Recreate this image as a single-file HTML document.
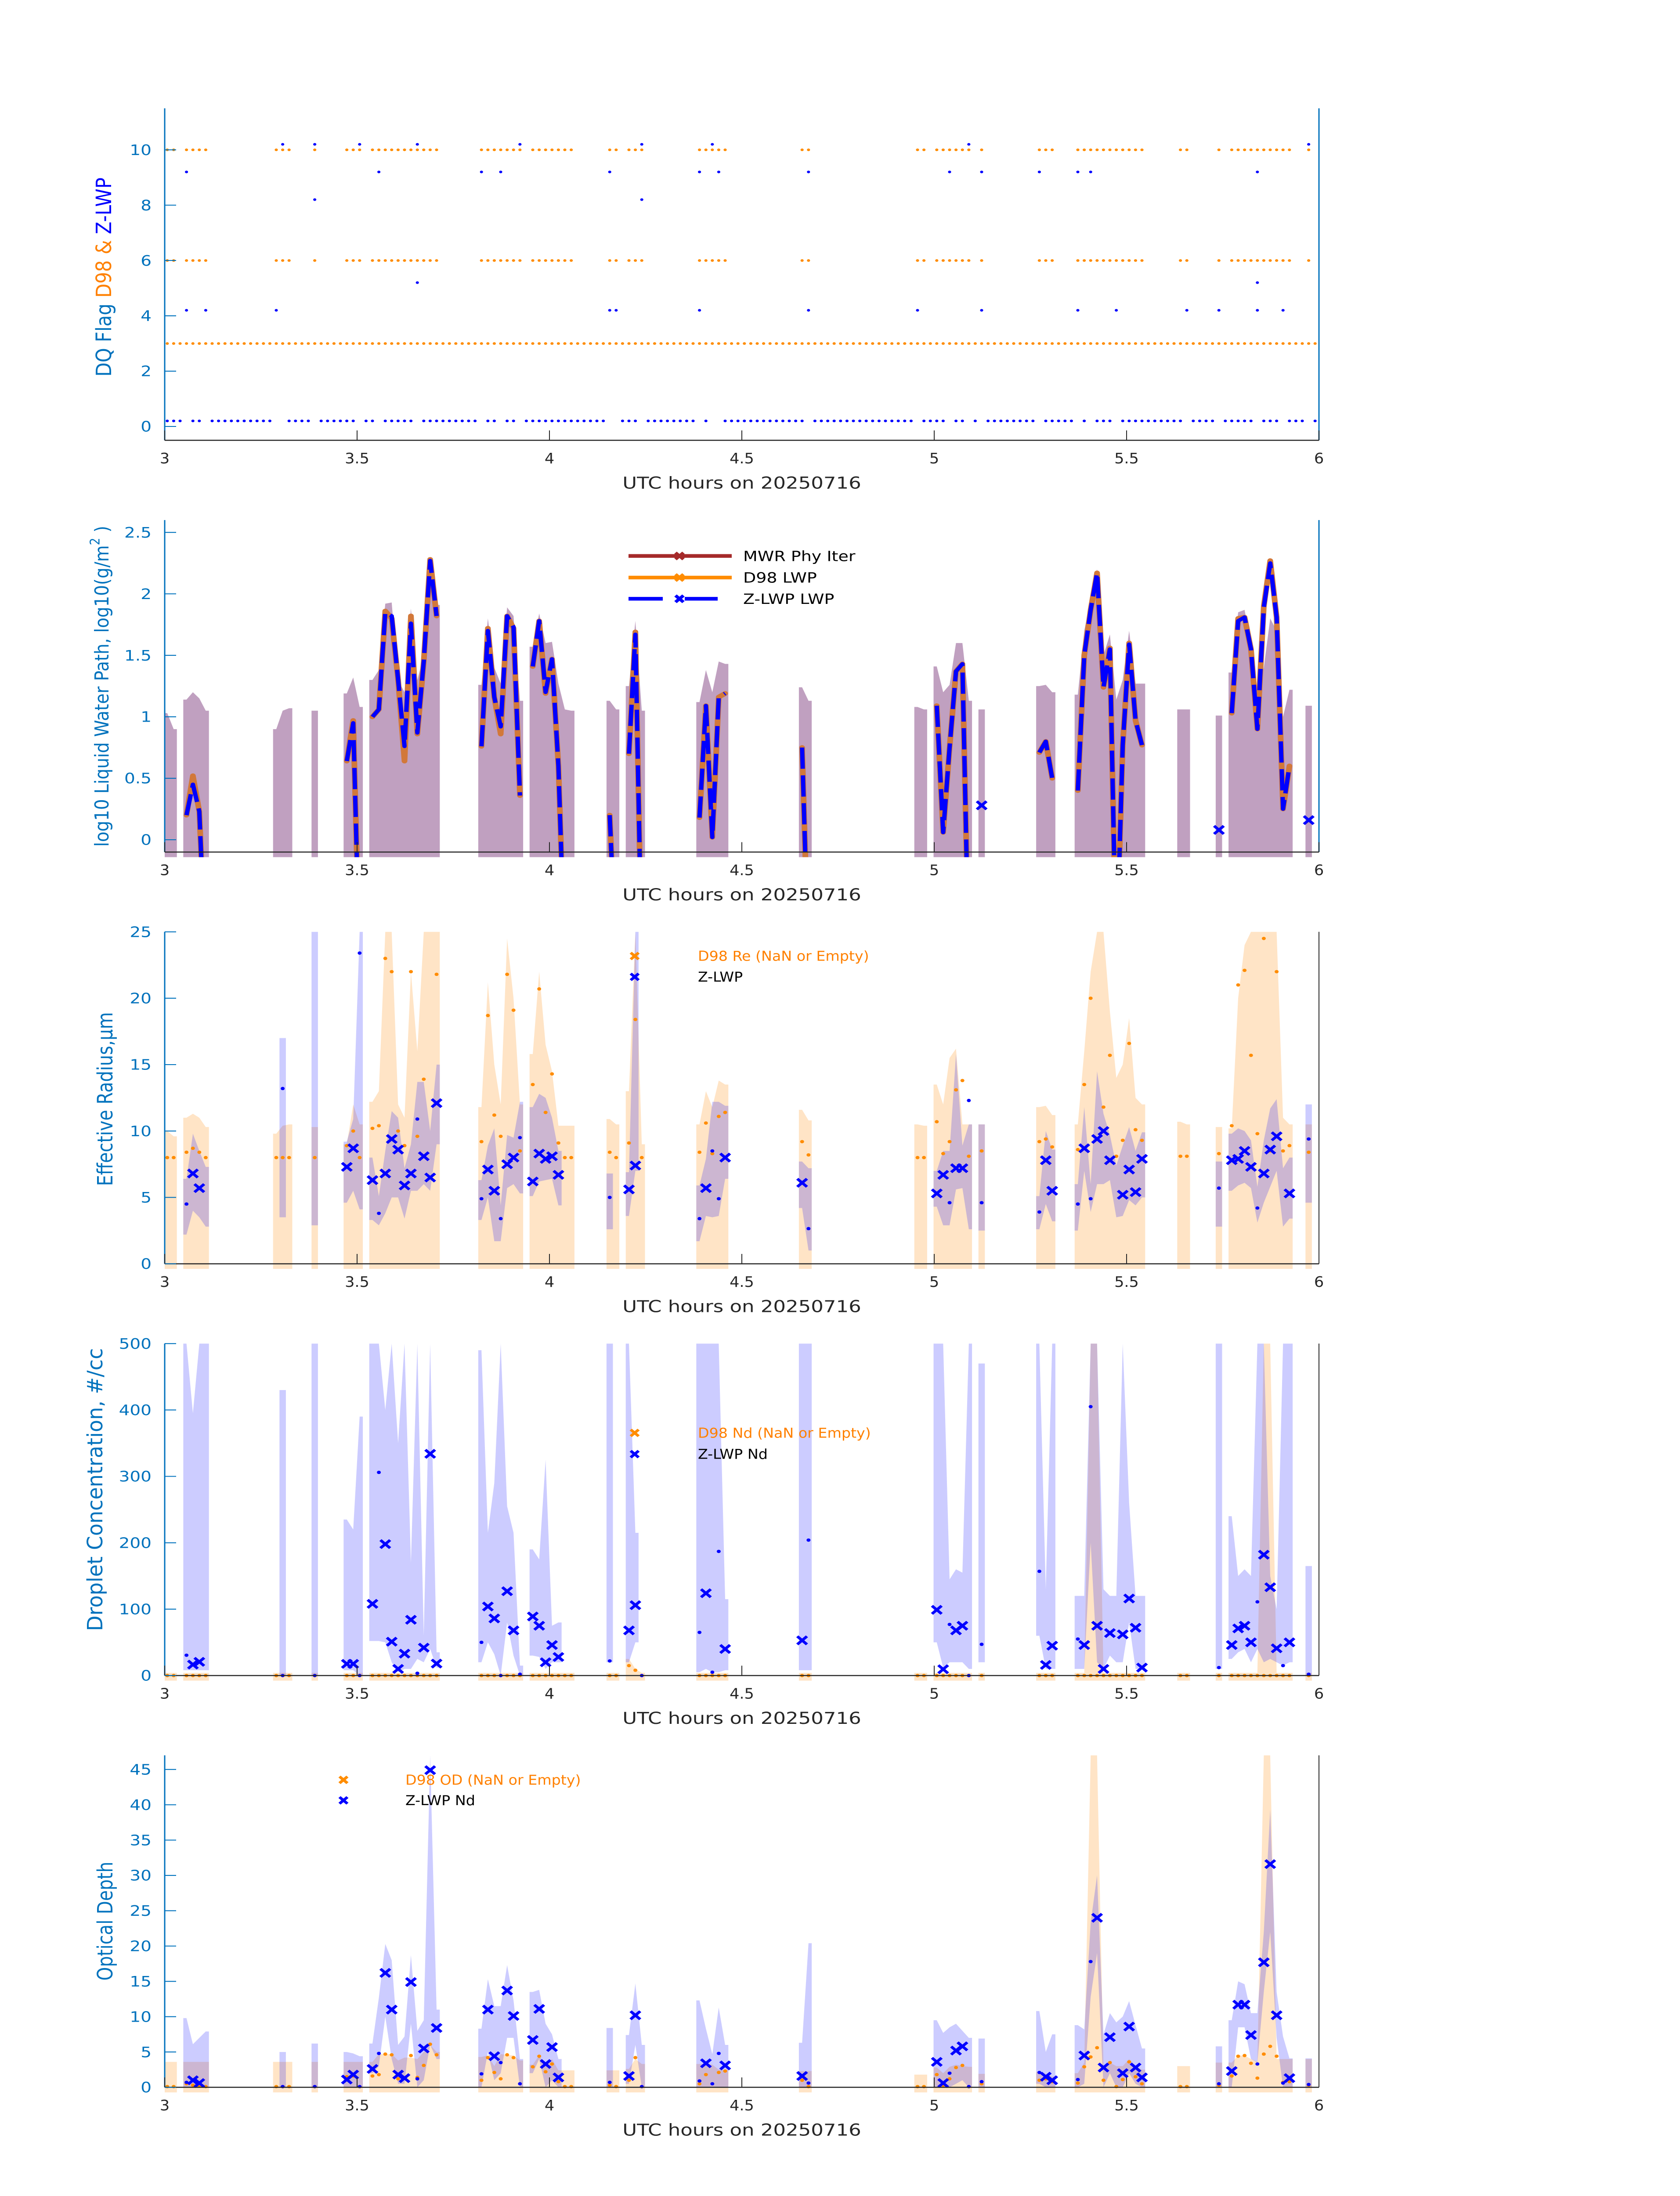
<!DOCTYPE html>
<html><head><meta charset="utf-8"><title>Cloud retrieval panels 20250716</title>
<style>
html,body{margin:0;padding:0;background:#fff;width:100vw;height:100vh;overflow:hidden;}
svg{display:block;position:absolute;left:0;top:0;width:100vw;height:100vh;}
text{font-family:"DejaVu Sans","Liberation Sans",sans-serif;}
</style></head>
<body>
<svg id="fig" xmlns="http://www.w3.org/2000/svg" width="100%" height="100%" viewBox="0 0 3825 6000" preserveAspectRatio="none">
<rect x="0" y="0" width="3825" height="6000" fill="#ffffff"/>
</svg>
<script>
const n = null;
// cloudy runs (minute after 03 UTC)
const runStart = [0,3,17,23,28,32,49,57,69,72,83,99,117,120,127,136,142,158,164,166,178];
const runLen   = [2,4,3,1,3,11,7,7,2,3,5,2,2,6,1,3,11,2,1,10,1];

// Panel 1: Z-LWP high flags
const zFlagMin = [3,3,6,17,18,23,23,30,33,39,39,49,52,55,69,69,70,74,74,83,83,85,86,100,100,117,122,125,127,127,136,142,142,144,148,159,164,170,170,170,174,178];
const zFlagVal = [9.2,4.2,4.2,4.2,10.2,10.2,8.2,10.2,9.2,10.2,5.2,9.2,9.2,10.2,9.2,4.2,4.2,10.2,8.2,9.2,4.2,10.2,9.2,9.2,4.2,4.2,9.2,10.2,9.2,4.2,9.2,9.2,4.2,9.2,4.2,4.2,4.2,9.2,5.2,4.2,4.2,10.2];
const d98BaseFlag = 3;
const d98CloudFlags = [6,10];
const zBaseFlag = 0.2;

// Panel 2: LWP (log10), -1 = below axis
const zLwp = [n,n, .2,.45,.23,-1, n,n,n, n, .64,.95,-1,
 1.0,1.06,1.85,1.82,1.3,.76,1.76,.87,1.45,2.27,1.82,
 .76,1.7,1.16,.92,1.82,1.73,.36,
 1.41,1.78,1.2,1.47,.6,-1,n,
 .2,-1, .7,1.67,-1, .18,1.09,.02,1.16,1.19, .75,-1, n,n,
 1.09,.06,.75,1.37,1.43,-1, .28, .71,.8,.5,
 .4,1.5,1.87,2.17,1.24,1.55,-1,.77,1.59,.97,.77,
 n,n, .08, 1.03,1.78,1.81,1.55,.9,1.89,2.25,1.81,.25,.6, .16];
const d98Lwp = [n,n, .2,.52,.23,-1, n,n,n, n, .64,.97,-1,
 1.0,1.06,1.86,1.8,1.3,.64,1.82,.86,1.45,2.28,1.82,
 .76,1.72,1.16,.86,1.82,1.72,.36,
 1.41,1.78,1.19,1.47,.6,-1,n,
 .2,-1, .7,1.69,-1, .18,1.09,.02,1.16,1.19, .75,-1, n,n,
 1.09,.06,.75,1.37,1.43,-1, n, .71,.8,.5,
 .4,1.5,1.87,2.17,1.24,1.56,-1,.77,1.6,.97,.77,
 n,n, n, 1.03,1.8,1.81,1.55,.9,1.9,2.27,1.81,.25,.6, n];
const lwpUp = [1.03,.9, 1.14,1.2,1.15,1.05, .9,1.05,1.07, 1.05, 1.19,1.32,1.08,
 1.3,1.38,1.92,1.93,1.3,1.2,1.88,1.3,1.5,2.28,1.91,
 1.26,1.8,1.4,1.27,1.89,1.82,1.13,
 1.57,1.84,1.6,1.61,1.27,1.06,1.05,
 1.13,1.06, 1.25,1.78,1.05, 1.12,1.38,1.2,1.45,1.43, 1.24,1.13, 1.08,1.06,
 1.41,1.2,1.26,1.6,1.6,1.13, 1.06, 1.25,1.26,1.2,
 1.18,1.7,1.95,2.2,1.5,1.67,1.14,1.3,1.7,1.27,1.27,
 1.06,1.06, 1.01, 1.36,1.85,1.87,1.6,1.2,1.4,1.8,1.7,1.0,1.22, 1.09];

// Panel 3: effective radius
const d98Re = [8,8, 8.4,8.7,8.4,8, 8,8,8, 8, 8.9,10,8,
 10.2,10.4,23,22,10,8.9,22,9.6,13.9,n,21.8,
 9.2,18.7,11.2,9.6,21.8,19.1,8.5,
 13.5,20.7,11.4,14.3,9.1,8,8,
 8.4,8, 9.1,18.4,8, 8.4,10.6,8.3,11.1,11.4, 9.2,8.2, 8,8,
 10.7,8.3,9.2,13.1,13.8,8.1, 8.5, 9.2,9.4,8.8,
 8.6,13.5,20,n,11.8,15.7,8.1,9.3,16.6,10.1,9.3,
 8.1,8.1, 8.3, 10.4,21,22.1,15.7,9.8,24.5,8.5,22,8.5,8.9, 8.4];
const zRe = [n,n, 4.5,6.8,5.7,n, n,13.2,n, n, 7.3,8.7,23.4,
 6.3,3.8,6.8,9.4,8.6,5.9,6.8,10.9,8.1,6.5,12.1,
 4.9,7.1,5.5,3.4,7.5,8.0,9.5,
 6.2,8.3,7.9,8.1,6.7,n,n,
 5.0,n, 5.6,7.4,n, 3.4,5.7,8.5,4.9,8.0, 6.1,2.65, n,n,
 5.3,6.7,4.6,7.2,7.2,12.3, 4.6, 3.9,7.8,5.5,
 4.5,8.7,4.9,9.4,10.0,7.8,n,5.2,7.1,5.4,7.9,
 n,n, 5.7, 7.8,7.9,8.5,7.3,4.2,6.8,8.6,9.6,n,5.3, 9.4];
const zMark = [0,0, 0,1,1,0, 0,0,0, 0, 1,1,0,
 1,0,1,1,1,1,1,0,1,1,1,
 0,1,1,0,1,1,0,
 1,1,1,1,1,0,0,
 0,0, 1,1,0, 0,1,0,0,1, 1,0, 0,0,
 1,1,0,1,1,0, 0, 0,1,1,
 0,1,0,1,1,1,0,1,1,1,1,
 0,0, 0, 1,1,1,1,0,1,1,1,0,1, 0];
const oReHi = [10,9.6, 11,11.3,11,10.3, 9.8,10.4,10.5, 10.3, 9,12,10.5,
 12.2,13,25,25,12,11,22,16,25,25,25,
 11.8,21.2,15,12,24.5,20,12,
 15.8,22,16.5,14.5,10.4,10.4,10.4,
 10.9,10.5, 13,25,9, 10.5,13,11.8,13.8,13.5, 11.6,10.8, 10.5,10.4,
 13.5,12,15.5,16.2,10.5,10.5, 10.5, 11.8,11.9,11.2,
 10.5,16,22,25,25,19,14,15,18.5,12.5,12,
 10.7,10.5, 10.3, 10.2,20,24,25,25,25,25,25,11,10.5, 10.5];
const bReLo = [n,n, 2.2,4,3.5,2.8, n,3.5,n, 2.9, 4.6,5.5,4.1,
 3.3,2.9,3.8,5,5,3.4,5.5,5.5,6,5.5,9,
 3.3,5,1.7,1.7,5.7,6,5.3,
 5.1,6.2,6.3,6.4,4.4,n,n,
 2.6,n, 3.6,7,n, 1.7,3.6,3.5,3.6,6.4, 4.2,1, n,n,
 4.3,2.9,2.9,5.6,5.7,2.6, 2.5, 2.6,4.5,3.2,
 2.5,7,3.9,6,6,6.3,3.5,3.6,4.8,4.4,5,
 n,n, 2.8, 5.5,5.9,6.1,5.7,3.1,4.6,5.8,7,2.8,3.4, 4.6];
const bReHi = [n,n, 6.4,9.8,8.5,7.3, n,17,n, 25, 9.2,10.9,25,
 8,5.1,8.5,11.5,11,7.2,9,13.7,13.7,10,15,
 6.3,8.9,10.2,4.4,9.7,9.5,12.2,
 11.8,12.8,12.5,11,8.5,n,n,
 6.8,n, 6.9,25,n, 5.9,7.9,12.2,12.2,11.9, 7.7,7.2, n,n,
 7,8.5,8.5,15.8,8.9,10.5, 10.5, 5.1,10,8.6,
 6,11.8,6,14.5,11.3,9.7,7.4,8.9,10.3,8.5,9.9,
 n,n, 7.7, 9.8,10.2,10,9.3,5.8,9.3,11.7,12.4,7.2,8, 12];

// Panel 4: droplet concentration
const zNd = [n,n, 30.6,16.5,20.7,n, n,0,n, 0, 17.6,17.6,0,
 108,306,198,51,10,33,84,3.5,42,334,18,
 50,104,86,0,127,68,2,
 89,75,20,46,28,n,n,
 22,n, 68,106,0, 65,124,5,187,40, 53,204, n,n,
 99,9.5,77,68,75,0, 47, 157,16,45,
 55,46,405,75,10,64,n,62,116,72,12,
 n,n, 12, 46,71,75,50,111,182,133,41,15,50, 2];
const d98Nd = [0,0, 0,0,0,0, 0,0,0, 0, 0,0,0,
 0,0,0,0,0,0,0,0,0,0,0,
 0,0,0,0,0,0,0,
 0,0,0,0,0,0,0,
 0,0, 15,8,0, 0,0,0,0,0, 0,0, 0,0,
 0,0,0,0,0,0, 0, 0,0,0,
 0,0,0,0,0,0,0,0,0,0,0,
 0,0, 0, 0,0,0,0,0,0,0,0,0,0, 0];
const oNdHi = [4,4, 4,4,4,4, 4,4,4, 4, 4,4,4,
 4,4,4,4,4,4,4,4,4,4,4,
 4,4,4,4,4,4,4,
 4,4,4,4,4,4,4,
 4,4, 25,10,4, 4,4,4,4,4, 4,4, 4,4,
 4,4,4,4,4,4, 4, 4,4,4,
 4,4,500,500,4,4,4,4,4,4,4,
 4,4, 4, 4,4,4,4,4,500,500,4,4,4, 4];
const bNdLo = [n,n, 8,8,8,8, n,0,n, 0, 8,8,0,
 52,52,50,20,5,10,10,25,20,40,12,
 20,50,32,0,80,30,0,
 30,28,10,20,20,n,n,
 20,n, 20,50,n, 5,10,5,5,8, 8,8, n,n,
 50,12,20,20,20,10, 20, 60,10,10,
 10,10,200,20,10,30,20,20,80,10,10,
 n,n, 10, 25,35,40,20,40,20,25,20,15,20, 0];
const bNdHi = [n,n, 500,395,500,500, n,430,n, 500, 235,220,390,
 500,500,400,500,350,500,170,500,60,500,35,
 490,215,290,500,255,215,15,
 190,175,325,75,80,n,n,
 500,n, 500,215,n, 500,500,500,500,115, 500,500, n,n,
 500,500,145,160,155,500, 470, 500,130,500,
 120,120,500,500,130,120,120,500,260,120,120,
 n,n, 500, 240,150,160,150,500,500,150,100,500,500, 165];

// Panel 5: optical depth
const zOd = [n,n, .7,1.0,.6,n, n,.1,n, .1, 1.1,1.8,.1,
 2.6,4.8,16.2,11,1.8,1.3,14.9,1.2,5.5,44.9,8.4,
 1.9,11,4.4,3.5,13.7,10.1,.5,
 6.7,11.1,3.3,5.7,1.4,n,n,
 .7,n, 1.6,10.2,.1, .9,3.4,.5,4.8,3.1, 1.6,.6, n,n,
 3.6,.6,2.0,5.2,5.8,.1, .8, 2.1,1.5,1.0,
 1.1,4.5,17.8,24,2.8,7.1,n,2.0,8.6,2.8,1.4,
 n,n, .5, 2.3,11.7,11.7,7.4,3.3,17.7,31.6,10.2,.6,1.3, .4];
const d98Od = [.1,.1, .5,.3,.2,.1, .1,.1,.1, .1, 1.5,1.6,.1,
 1.6,1.8,4.7,4.6,1.2,1.3,4.5,1.4,3.1,6.1,4.6,
 1.0,4.2,2.1,1.2,4.6,4.2,.5,
 2.9,4.4,2.2,3.3,.8,.1,.1,
 .3,.1, 1.0,4.2,.1, .5,1.8,.5,2.1,2.3, 1.0,.1, .1,.1,
 1.8,.3,1.2,2.8,3.1,.1, .5, 1.0,1.2,.8,
 .6,2.9,4.3,5.6,1.0,3.5,.1,1.1,3.6,1.5,.5,
 .1,.1, .3, 1.6,4.4,4.5,3.4,1.3,4.7,5.8,4.4,.7,.8, .3];
const oOdHi = [3.6,3.6, 3.6,3.6,3.6,3.6, 3.6,3.6,3.6, 3.6, 3.6,3.6,3.6,
 3.6,4.7,4.7,4.7,3.8,4.2,4.2,4,5,6,5,
 4.3,4.5,3,4.7,4.6,4.5,3.8,
 3.2,4.5,3,4,2.4,2.4,2.4,
 2.4,2.4, 2.6,4,3.3, 3.3,3.3,3.2,2.5,2.5, 2.3,2.3, 1.8,1.8,
 2.8,2,2.9,3.2,3,2.9, 1.9, 2.2,1.9,1.5,
 2,3.5,47,47,3,3.5,3,3,4,3,2.5,
 3,3, 3.5, 3.5,4.5,4.5,4,3.6,47,47,4,4,4, 4];
const bOdLo = [n,n, 0,0,0,0, n,0,n, 0, 0,0,0,
 2,3,10,4,.5,.5,9,0,1,6,4,
 0,5,1,2,7,7,0,
 2,4,0,1,0,n,n,
 0,n, .5,6,0, 0,0,0,0,0, 0,0, n,n,
 0,0,0,.5,1,0, 0, .5,0,0,
 0,.5,12.8,19,0,2,0,0,2,.5,0,
 n,n, 0, 0,8.5,8.5,4,3.5,13.5,22,7,0,0, 0];
const bOdHi = [n,n, 9.8,6.1,7,7.9, n,5,n, 6.2, 5,4.8,4.4,
 6.2,12.7,20.3,18,6,7.2,18.7,8,9.5,47,11,
 8.3,15.3,11.5,11.5,17.3,12.3,4,
 13.5,13.8,9,7.5,4,n,n,
 8.4,n, 7.4,14.7,6, 12.3,8.3,4.7,11.3,6, 6.3,20.4, n,n,
 9.5,7.7,8.5,9,8,7, 6.9, 10.8,5,7.5,
 8.8,8.2,23.3,30,7.5,10.5,9.2,10,12.2,8.8,5.5,
 n,n, 5.8, 9.5,15,14.6,10.5,10.5,22,39.3,13.5,7.2,4.1, 4.1];

const xTicks = [3,3.5,4,4.5,5,5.5,6];
const xTickLabels = ['3','3.5','4','4.5','5','5.5','6'];
const p1Ticks = [0,2,4,6,8,10];
const p2Ticks = [0,0.5,1,1.5,2,2.5];
const p3Ticks = [0,5,10,15,20,25];
const p4Ticks = [0,100,200,300,400,500];
const p5Ticks = [0,5,10,15,20,25,30,35,40,45];

// ---------- layout ----------
const NS = 'http://www.w3.org/2000/svg';
const svg = document.getElementById('fig');
const X0 = 375, X1 = 3003, H = 907;
const tops = [296,1421,2546,3671,4796];
const ylims = [[-0.5,11.5],[-0.1,2.6],[0,25],[0,500],[0,47]];
const BLUEAX = '#0072BD';
const M = [];
runStart.forEach((s,i)=>{ for(let j=0;j<runLen[i];j++) M.push(s+j); });
function tOf(k){ return 3 + (k+0.4)/60; }
function xs(t){ return X0 + (t-3)/3*(X1-X0); }
function ys(p,v){ const l=ylims[p]; return tops[p] + H*(l[1]-v)/(l[1]-l[0]); }
function mk(tag, attrs, parent){
  const e = document.createElementNS(NS, tag);
  for (const k in attrs) e.setAttribute(k, attrs[k]);
  (parent||svg).appendChild(e);
  return e;
}
const defs = mk('defs', {});
const groups = [];
for (let p=0;p<5;p++){
  const cp = mk('clipPath', {id:'clip'+p}, defs);
  mk('rect', {x:X0, y:tops[p], width:X1-X0, height:H+14}, cp);
  const g = mk('g', {'clip-path':'url(#clip'+p+')'});
  
  
  groups.push(g);
}
function runSegments(values){
  const segs=[]; let idx=0;
  runStart.forEach((s,r)=>{
    let cur=[];
    for(let j=0;j<runLen[r];j++){
      const i=idx+j;
      if(values[i]===null){ if(cur.length) segs.push(cur); cur=[]; }
      else cur.push(i);
    }
    if(cur.length) segs.push(cur);
    idx+=runLen[r];
  });
  return segs;
}
function band(p, lo, hi, loDefault, fill, name){
  runSegments(hi).forEach(seg=>{
    const top=[], bot=[];
    const first=seg[0], last=seg[seg.length-1];
    const lv = i => (lo && lo[i]!==null) ? lo[i] : loDefault;
    top.push([xs(tOf(M[first])-0.5/60), ys(p,hi[first])]);
    seg.forEach(i=>top.push([xs(tOf(M[i])), ys(p,hi[i])]));
    top.push([xs(tOf(M[last])+0.5/60), ys(p,hi[last])]);
    bot.push([xs(tOf(M[last])+0.5/60), ys(p,lv(last))]);
    for(let q=seg.length-1;q>=0;q--) bot.push([xs(tOf(M[seg[q]])), ys(p,lv(seg[q]))]);
    bot.push([xs(tOf(M[first])-0.5/60), ys(p,lv(first))]);
    const pts = top.concat(bot).map(a=>a[0].toFixed(1)+','+a[1].toFixed(1)).join(' ');
    const e = mk('polygon', {points:pts, fill:fill, stroke:'none'}, groups[p]);
    
    
  });
}
function xMarker(parent, x, y, color, s, w){
  return mk('path', {d:`M${x-s},${y-s}L${x+s},${y+s}M${x-s},${y+s}L${x+s},${y-s}`, stroke:color, 'stroke-width':w, fill:'none'}, parent);
}
function dot(parent, x, y, r, color){
  return mk('circle', {cx:x.toFixed(1), cy:y.toFixed(1), r:r, fill:color}, parent);
}

// ---------- Panel 1 ----------
for(let k=0;k<180;k++){
  const c = dot(groups[0], xs(tOf(k)), ys(0,d98BaseFlag), 3.6, '#FF8C00');
  
  
}
M.forEach(k=>{
  d98CloudFlags.forEach(f=>{
    const c = dot(groups[0], xs(tOf(k)), ys(0,f), 3.6, '#FF8C00');
    
    
  });
});
for(let k=0;k<180;k++){
  if(zFlagMin.indexOf(k)>=0) continue;
  const c = dot(groups[0], xs(tOf(k)), ys(0,zBaseFlag), 3.6, '#0000FF');
  
  
}
zFlagMin.forEach((k,i)=>{
  const c = dot(groups[0], xs(tOf(k)), ys(0,zFlagVal[i]), 3.6, '#0000FF');
  
  
});

// ---------- Panel 2 ----------
band(1, null, lwpUp, -0.2, '#C0A0C0', 'lwp-uncertainty-band');
function lwpLine(vals, color, width, dash, name){
  runSegments(vals).forEach(seg=>{
    if(seg.length===1){
      const i=seg[0];
      const m = xMarker(groups[1], xs(tOf(M[i])), ys(1,vals[i]), color, 11, 7);
      
      
      return;
    }
    const pts = seg.map(i=>xs(tOf(M[i])).toFixed(1)+','+ys(1,vals[i]).toFixed(1)).join(' ');
    const attrs = {points:pts, fill:'none', stroke:color, 'stroke-width':width, 'stroke-linejoin':'round', 'stroke-linecap':'round'};
    if(dash) { attrs['stroke-dasharray']=dash; attrs['stroke-linecap']='butt'; }
    const e = mk('polyline', attrs, groups[1]);
    
    
  });
}
lwpLine(d98Lwp, '#D2783A', 13, null, 'd98-lwp-line');
lwpLine(zLwp, '#0000FF', 10, '58,18', 'zlwp-lwp-line');

// ---------- Panel 3-5 ----------
function scatterPanel(p, d98, z, oHi, bLo, bHi, prefix){
  band(p, null, oHi, -0.02*(ylims[p][1]), '#FFE4C6', prefix+'-d98-band');
  band(p, bLo, bHi, 0, 'rgba(0,0,255,0.2)', prefix+'-zlwp-band');
  d98.forEach((v,i)=>{
    if(v===null) return;
    const c = dot(groups[p], xs(tOf(M[i])), ys(p,v), 4.5, '#FF8C00');
    
    
  });
  z.forEach((v,i)=>{
    if(v===null) return;
    const x = xs(tOf(M[i])), y = ys(p,v);
    if(zMark[i]===1){
      const m = xMarker(groups[p], x, y, '#0000FF', 11, 7);
      
      
    } else {
      const c = dot(groups[p], x, y, 4.5, '#0000FF');
      
      
    }
  });
}
scatterPanel(2, d98Re, zRe, oReHi, bReLo, bReHi, 're');
scatterPanel(3, d98Nd, zNd, oNdHi, bNdLo, bNdHi, 'nd');
scatterPanel(4, d98Od, zOd, oOdHi, bOdLo, bOdHi, 'od');

// ---------- axes ----------
const yTicksAll = [p1Ticks,p2Ticks,p3Ticks,p4Ticks,p5Ticks];
const yLabelX = [240,235,243,220,243];
const yLabelLen = [544,877,475,773,325];
const yLabelCy = [757,1875,3003,4070,5249];
for(let p=0;p<5;p++){
  const top=tops[p], bot=tops[p]+H;
  const ax = mk('g', {});
  
  
  const yl = mk('line', {x1:X0, y1:top, x2:X0, y2:bot, stroke:BLUEAX, 'stroke-width':3}, ax);
  
  
  const rl = mk('line', {x1:X1, y1:top, x2:X1, y2:bot, stroke:(p<2?BLUEAX:'#262626'), 'stroke-width':(p<2?3:2)}, ax);
  
  
  const xl = mk('line', {x1:X0, y1:bot, x2:X1, y2:bot, stroke:'#262626', 'stroke-width':3}, ax);
  
  
  yTicksAll[p].forEach(v=>{
    const y = ys(p,v);
    const tk = mk('line', {x1:X0, y1:y, x2:X0+26, y2:y, stroke:BLUEAX, 'stroke-width':2.5}, ax);
    
    
    const tl = mk('text', {x:345, y:y+14, 'text-anchor':'end', 'font-size':39, fill:BLUEAX}, ax);
    tl.textContent = String(v);
    
    
  });
  xTicks.forEach((v,i)=>{
    const x = xs(v);
    const tk = mk('line', {x1:x, y1:bot, x2:x, y2:bot-27, stroke:'#262626', 'stroke-width':2}, ax);
    
    
    const tl = mk('text', {x:x, y:bot+63, 'text-anchor':'middle', 'font-size':39, fill:'#262626', 'font-stretch':'condensed'}, ax);
    tl.textContent = xTickLabels[i];
    
    
  });
  const xt = mk('text', {x:(X0+X1)/2, y:bot+132, 'text-anchor':'middle', 'font-size':45, fill:'#262626'}, ax);
  xt.textContent = 'UTC hours on 20250716';
  
  
  const cy = yLabelCy[p];
  const yt = mk('text', {x:yLabelX[p], y:cy, 'text-anchor':'middle', 'font-size':48, fill:BLUEAX, transform:`rotate(-90 ${yLabelX[p]} ${cy})`, 'dominant-baseline':'middle', textLength:yLabelLen[p], lengthAdjust:'spacingAndGlyphs'}, ax);
  
  
  if(p===0){
    yt.innerHTML = '<tspan fill="#0072BD">DQ Flag  </tspan><tspan fill="#FF8000">D98 &amp;  </tspan><tspan fill="#0000FF">Z-LWP</tspan>';
  } else if(p===1){
    yt.setAttribute('font-size', 44);
    yt.innerHTML = 'log10 Liquid Water Path, log10(g/m<tspan baseline-shift="super" font-size="30">2</tspan> )';
  } else if(p===2){
    yt.textContent = 'Effective Radius,\u03bcm';
  } else if(p===3){
    yt.textContent = 'Droplet Concentration, #/cc';
  } else {
    yt.textContent = 'Optical Depth';
  }
}

// ---------- legends ----------
const lg2 = mk('g', {});


const lgRows = [['MWR Phy Iter','#A52A2A',null,1519],['D98 LWP','#FF8C00',null,1578],['Z-LWP LWP','#0000FF','78,50',1636]];
lgRows.forEach(r=>{
  const ln = mk('line', {x1:1431, y1:r[3], x2:(r[2]?1634:1666), y2:r[3], stroke:r[1], 'stroke-width':10}, lg2);
  if(r[2]) ln.setAttribute('stroke-dasharray', r[2]);
  
  
  const mkx = xMarker(lg2, 1547, r[3], r[1], 9, 8);
  
  
  const t = mk('text', {x:1692, y:r[3]+14, 'font-size':38, fill:'#000'}, lg2);
  t.textContent = r[0];
  
  
});
function scatterLegend(mx, tx, y1, y2, label1, label2, name){
  const g = mk('g', {});
  
  
  const a = xMarker(g, mx, y1, '#FF8C00', 9, 7);
  
  
  const b = xMarker(g, mx, y2, '#0000FF', 9, 7);
  
  
  const t1 = mk('text', {x:tx, y:y1+13, 'font-size':37, fill:'#FF8000', 'font-stretch':'condensed'}, g);
  t1.textContent = label1;
  
  
  const t2 = mk('text', {x:tx, y:y2+13, 'font-size':37, fill:'#000', 'font-stretch':'condensed'}, g);
  t2.textContent = label2;
  
  
}
scatterLegend(1445, 1589, 2612, 2669, 'D98 Re (NaN or Empty)', 'Z-LWP', 'legend-re');
scatterLegend(1445, 1589, 3915, 3973, 'D98 Nd (NaN or Empty)', 'Z-LWP Nd', 'legend-nd');
scatterLegend(782, 923, 4863, 4919, 'D98 OD (NaN or Empty)', 'Z-LWP Nd', 'legend-od');
</script>
</body></html>
